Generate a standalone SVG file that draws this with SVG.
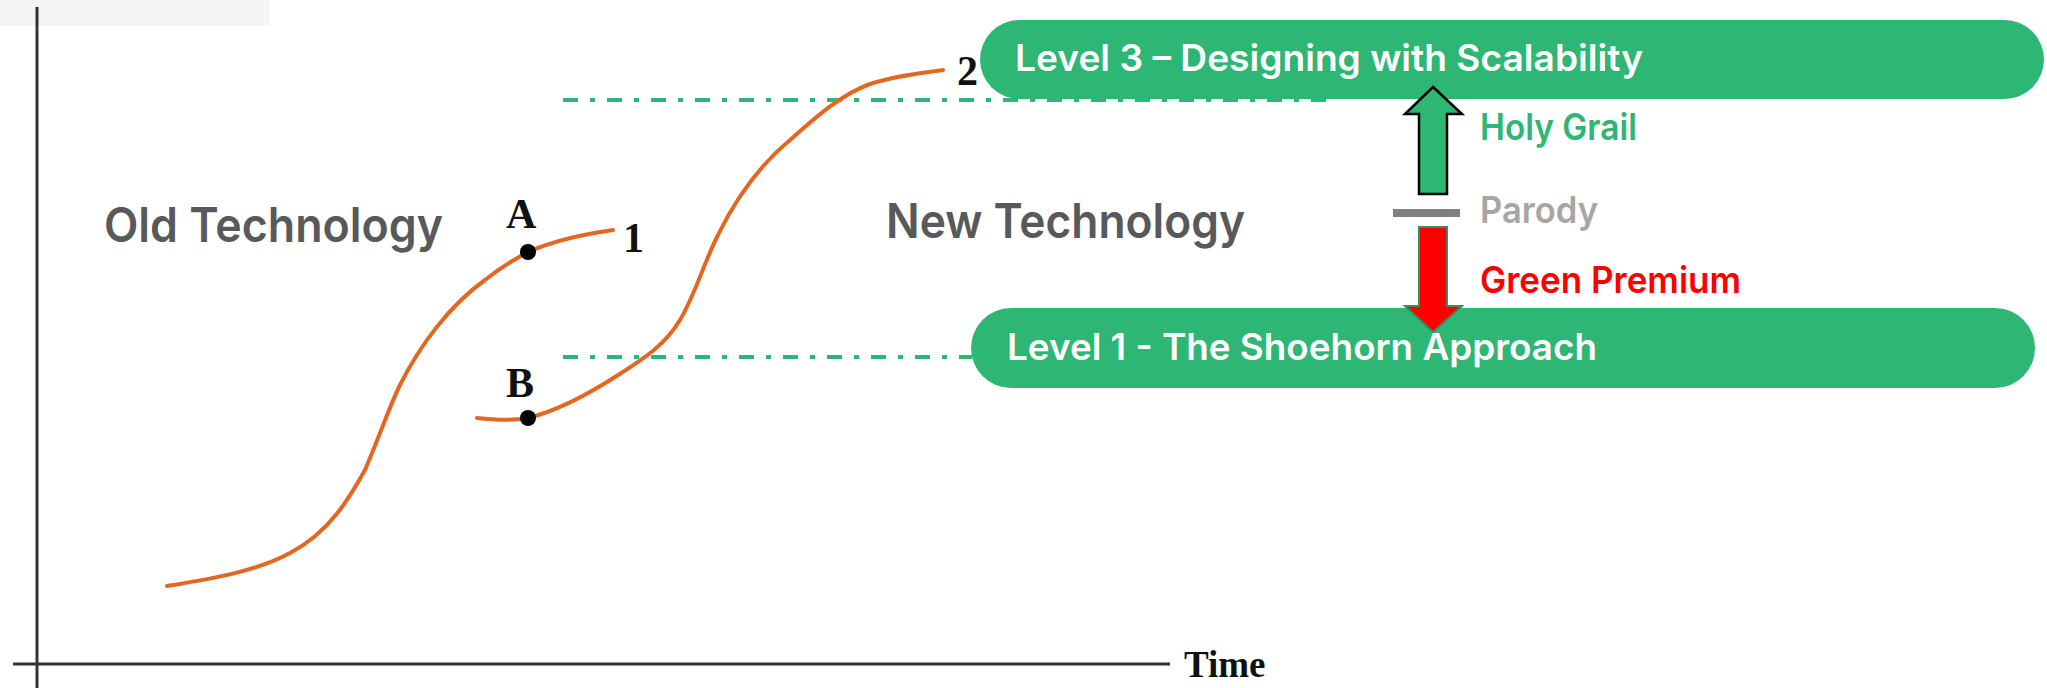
<svg xmlns="http://www.w3.org/2000/svg" width="2047" height="688" viewBox="0 0 2047 688">
  <style>
    .axis { stroke: #333; stroke-width: 3; fill: none; }
    .scurve { stroke: #e4661f; stroke-width: 4; fill: none; stroke-linecap: round; }
    .dot { fill: #000; }
    .serif { font-family: "Liberation Serif", "Times New Roman", serif; font-weight: bold; fill: #111; }
    .era { font-family: Inter, "Open Sans", sans-serif; font-weight: 600; font-size: 48px; fill: #58595b; }
    .pill { fill: #2db674; }
    .pill-text { font-family: Inter, "Open Sans", sans-serif; font-weight: 600; font-size: 37px; fill: #fff; }
    .note { font-family: Inter, "Open Sans", sans-serif; font-weight: 600; font-size: 37px; }
    .guide { stroke: #2db674; stroke-width: 4; fill: none; stroke-dasharray: 15 12 5 12; }
  </style>

  <rect x="0" y="0" width="2047" height="688" fill="#fff"/>
  <rect x="0" y="0" width="270" height="26" fill="#f5f5f5"/>

  <!-- chart axes -->
  <g id="axes">
    <line class="axis" x1="37" y1="7" x2="37" y2="688"/>
    <line class="axis" x1="13" y1="664" x2="1170" y2="664"/>
    <text class="serif" x="1184" y="677" font-size="37">Time</text>
  </g>

  <!-- level guide lines -->
  <g id="guides">
    <line class="guide" x1="563" y1="100" x2="1327" y2="100"/>
    <line class="guide" x1="563" y1="357" x2="972" y2="357"/>
  </g>

  <!-- S-curves -->
  <g id="curve-old">
    <path class="scurve" d="M167,586 C210,579 255,572 290,553 C330,532 350,497 365,470 C380,435 390,405 400,385 C420,345 450,305 485,280 C500,268 515,259 528,252 C555,240 585,234 613,230"/>
    <circle class="dot" cx="528" cy="252" r="8"/>
    <text class="serif" x="506" y="228" font-size="42">A</text>
    <text class="serif" x="623" y="252" font-size="42">1</text>
  </g>
  <g id="curve-new">
    <path class="scurve" d="M477,418 C495,420 512,421 528,418 C560,410 590,393 615,377 C645,358 665,345 680,320 C695,295 705,260 718,235 C735,200 760,165 790,140 C815,118 840,95 870,84 C895,76 920,73 943,70"/>
    <circle class="dot" cx="528" cy="418" r="8"/>
    <text class="serif" x="506" y="397" font-size="42">B</text>
    <text class="serif" x="957" y="85" font-size="42">2</text>
  </g>

  <g id="label-old">
    <text class="era" x="104" y="242" textLength="339" lengthAdjust="spacingAndGlyphs">Old Technology</text>
  </g>
  <g id="label-new">
    <text class="era" x="886" y="238" textLength="359" lengthAdjust="spacingAndGlyphs">New Technology</text>
  </g>

  <!-- level pills -->
  <g id="level-3">
    <rect class="pill" x="980" y="20" width="1064" height="79" rx="39.5"/>
    <text class="pill-text" x="1015" y="71" textLength="628" lengthAdjust="spacingAndGlyphs">Level 3 – Designing with Scalability</text>
  </g>
  <g id="level-1">
    <rect class="pill" x="971" y="308" width="1064" height="80" rx="40"/>
    <text class="pill-text" x="1007" y="360" textLength="590" lengthAdjust="spacingAndGlyphs">Level 1 - The Shoehorn Approach</text>
  </g>

  <g id="label-holy-grail">
    <text class="note" x="1480" y="140" fill="#2db674" textLength="157" lengthAdjust="spacingAndGlyphs">Holy Grail</text>
  </g>
  <g id="label-parody">
    <rect x="1393" y="209" width="67" height="8" fill="#808080"/>
    <text class="note" x="1480" y="223" fill="#a6a6a6" textLength="118" lengthAdjust="spacingAndGlyphs">Parody</text>
  </g>
  <g id="label-green-premium">
    <text class="note" x="1480" y="293" fill="#ff0000" textLength="261" lengthAdjust="spacingAndGlyphs">Green Premium</text>
  </g>

  <!-- arrows between levels -->
  <g id="connectors">
    <polygon points="1433,87 1462,114 1447,114 1447,194 1419,194 1419,114 1405,114" fill="#2db674" stroke="#000" stroke-width="2.5" stroke-linejoin="miter"/>
    <polygon points="1419,227 1447,227 1447,306 1462,306 1433,332 1405,306 1419,306" fill="#ff0000" stroke="#3d8a5e" stroke-width="2"/>
  </g>
</svg>
